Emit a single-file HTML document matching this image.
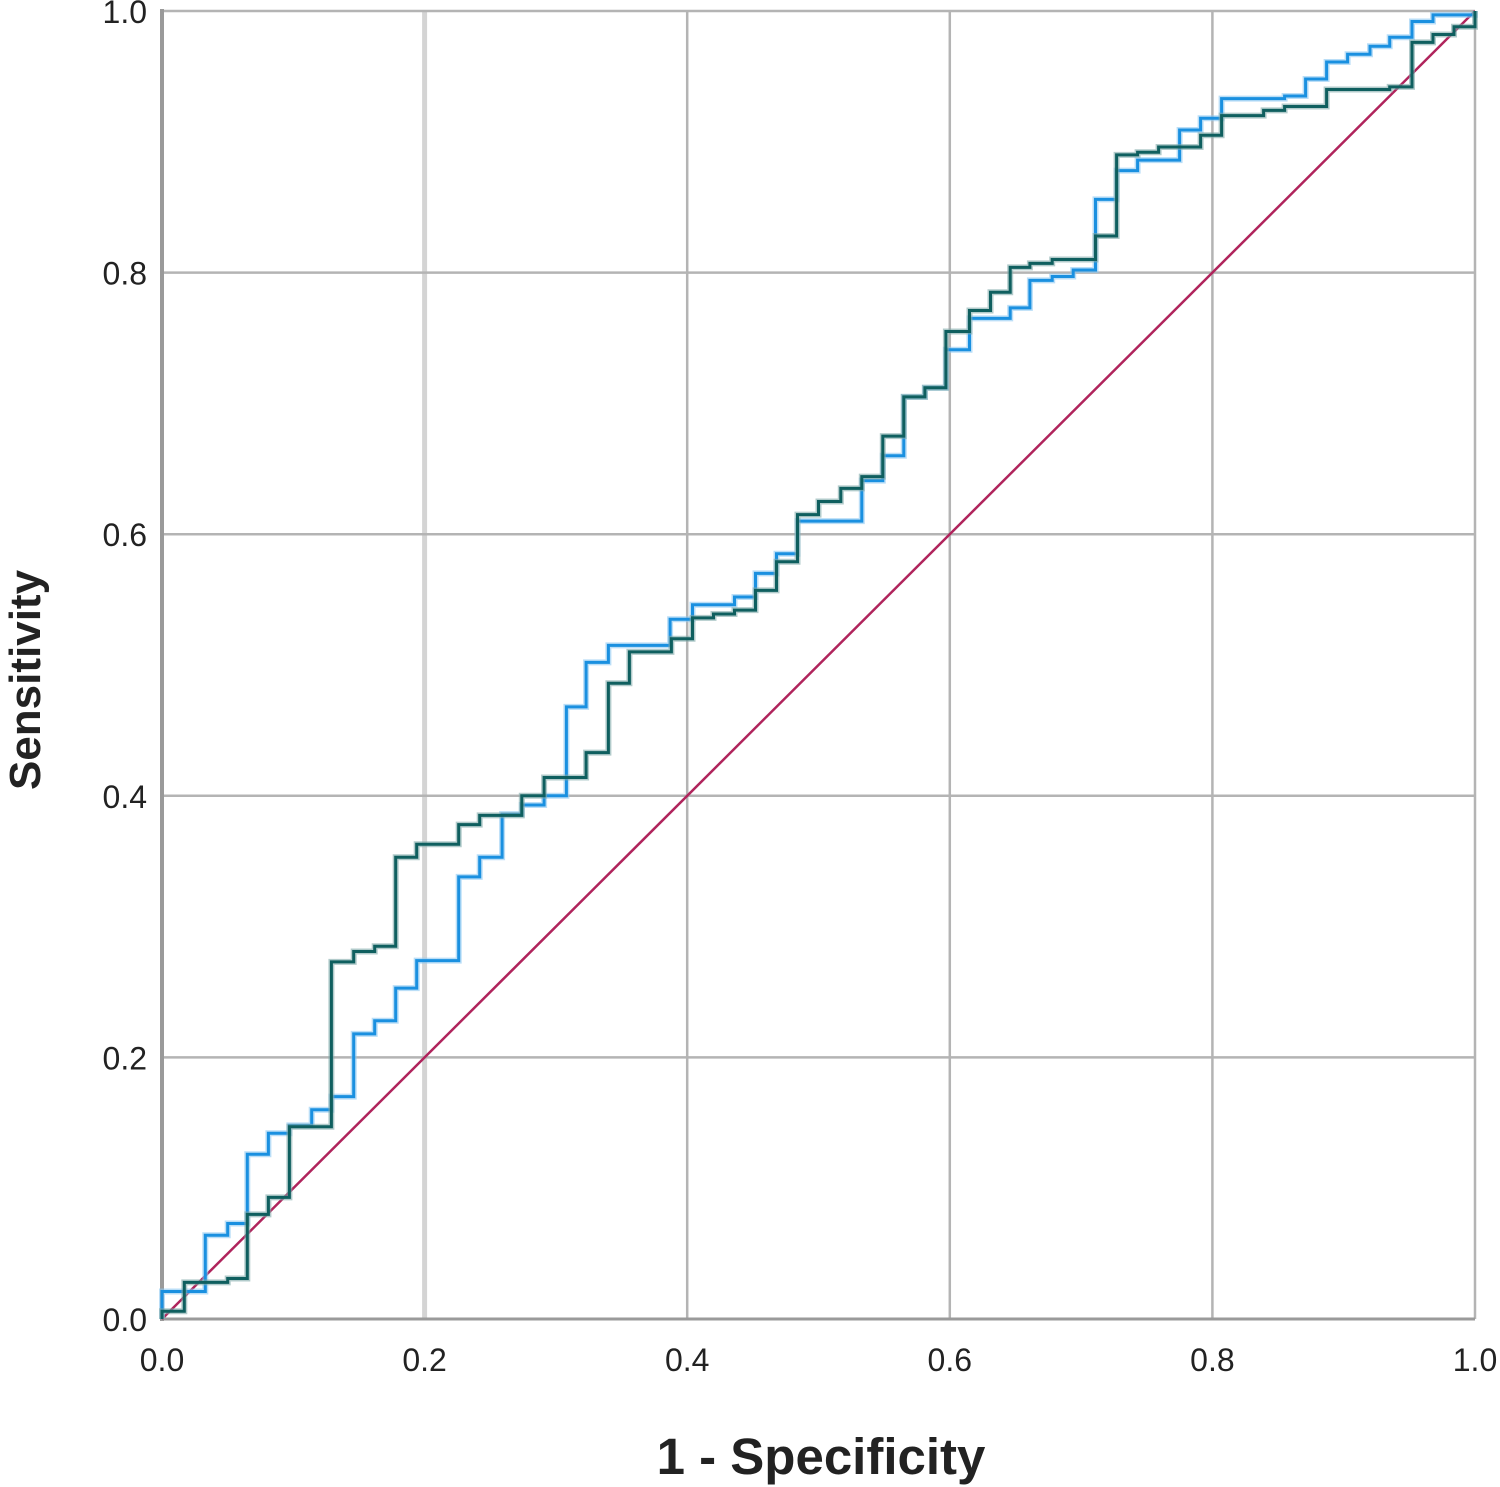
<!DOCTYPE html>
<html><head><meta charset="utf-8"><style>
html,body{margin:0;padding:0;background:#fff;}
svg{display:block;font-family:"Liberation Sans",sans-serif;}
</style></head><body>
<svg id="chart" width="1500" height="1487" viewBox="0 0 1500 1487" xmlns="http://www.w3.org/2000/svg">
<g id="grid"></g>
<g id="ticks"></g>
<g id="series"></g>
<text x="821" y="1474" text-anchor="middle" font-size="51" font-weight="bold" fill="#222">1 - Specificity</text>
<text transform="translate(40,680) rotate(-90)" text-anchor="middle" font-size="44" font-weight="bold" fill="#222">Sensitivity</text>
</svg>
<script>
const ticks = [0, 0.2, 0.4, 0.6, 0.8, 1.0];
const tickLabels = ["0.0","0.2","0.4","0.6","0.8","1.0"];
const refLine = [0, 1];
const tealX = [0,0.017,0.050,0.065,0.081,0.097,0.129,0.146,0.162,0.178,0.194,0.226,0.242,0.274,0.291,0.323,0.340,0.356,0.388,0.404,0.420,0.436,0.452,0.468,0.484,0.500,0.517,0.533,0.549,0.565,0.581,0.597,0.615,0.631,0.646,0.661,0.678,0.711,0.727,0.743,0.759,0.791,0.807,0.839,0.855,0.887,0.935,0.952,0.968,0.984,1.0];
const tealY = [0.006,0.028,0.031,0.080,0.093,0.147,0.273,0.281,0.285,0.353,0.363,0.378,0.385,0.400,0.414,0.433,0.486,0.510,0.520,0.536,0.539,0.542,0.557,0.579,0.615,0.625,0.635,0.644,0.675,0.705,0.712,0.755,0.771,0.785,0.804,0.807,0.810,0.828,0.890,0.892,0.896,0.905,0.920,0.924,0.927,0.940,0.942,0.976,0.982,0.988,1.0];
const blueX = [0,0.033,0.050,0.065,0.081,0.097,0.114,0.129,0.146,0.162,0.178,0.194,0.226,0.242,0.259,0.274,0.291,0.308,0.323,0.340,0.387,0.404,0.436,0.452,0.468,0.484,0.533,0.549,0.565,0.581,0.597,0.615,0.646,0.661,0.678,0.694,0.711,0.727,0.743,0.775,0.791,0.807,0.855,0.871,0.887,0.903,0.920,0.935,0.952,0.968,1.0];
const blueY = [0.021,0.064,0.073,0.126,0.142,0.148,0.160,0.170,0.218,0.228,0.253,0.274,0.338,0.353,0.386,0.393,0.400,0.468,0.502,0.515,0.535,0.546,0.552,0.570,0.585,0.610,0.641,0.660,0.705,0.712,0.741,0.765,0.773,0.794,0.797,0.802,0.856,0.878,0.886,0.909,0.918,0.933,0.935,0.948,0.961,0.967,0.973,0.980,0.992,0.997,1.0];

const X0=162,X1=1475,Y0=1319,Y1=11;
const sx=v=>X0+v*(X1-X0);
const sy=v=>Y0-v*(Y0-Y1);
const NS="http://www.w3.org/2000/svg";
function mk(tag,attrs,parent){const e=document.createElementNS(NS,tag);for(const k in attrs)e.setAttribute(k,attrs[k]);parent.appendChild(e);return e;}
const grid=document.getElementById('grid'),tk=document.getElementById('ticks'),ser=document.getElementById('series');
ticks.forEach((t,i)=>{
  if(t>0){
    const v=mk('line',{x1:sx(t),x2:sx(t),y1:Y1,y2:Y0,stroke:t===0.2?'#d4d4d4':'#b4b4b4','stroke-width':t===0.2?5:2.5},grid);
    
    
    const h=mk('line',{x1:X0,x2:X1,y1:sy(t),y2:sy(t),stroke:'#b4b4b4','stroke-width':2.5},grid);
    
    
  }
  const xl=mk('text',{x:sx(t),y:1371,'text-anchor':'middle','font-size':32,fill:'#222'},tk);
  xl.textContent=tickLabels[i];
  
  
  const yl=mk('text',{x:147,y:sy(t)+12,'text-anchor':'end','font-size':32,fill:'#222'},tk);
  yl.textContent=tickLabels[i];
  
  
});
const ax=mk('line',{x1:X0,x2:X0,y1:Y1-2,y2:Y0+2,stroke:'#9a9a9a','stroke-width':4},grid);


const bx=mk('line',{x1:X0,x2:X1,y1:Y0,y2:Y0,stroke:'#9a9a9a','stroke-width':3},grid);



function stepPath(xs,ys){
  let d='M'+sx(0)+','+sy(0);
  for(let i=0;i<xs.length;i++){d+=' H'+sx(xs[i]).toFixed(1)+' V'+sy(ys[i]).toFixed(1);}
  return d;
}
const ref=mk('line',{x1:sx(refLine[0]),y1:sy(refLine[0]),x2:sx(refLine[1]),y2:sy(refLine[1]),stroke:'#b0245c','stroke-width':2.5},ser);


[[blueX,blueY,'#1a90e0','#8cc8f2','blue-roc-curve'],[tealX,tealY,'#0f5f5f','#7fa8a8','teal-roc-curve']].forEach(s=>{
  const d=stepPath(s[0],s[1]);
  const h=mk('path',{d:d,fill:'none',stroke:s[3],'stroke-width':6,opacity:0.6},ser);
  
  
  const p=mk('path',{d:d,fill:'none',stroke:s[2],'stroke-width':3},ser);
  
  
});
</script>
</body></html>
